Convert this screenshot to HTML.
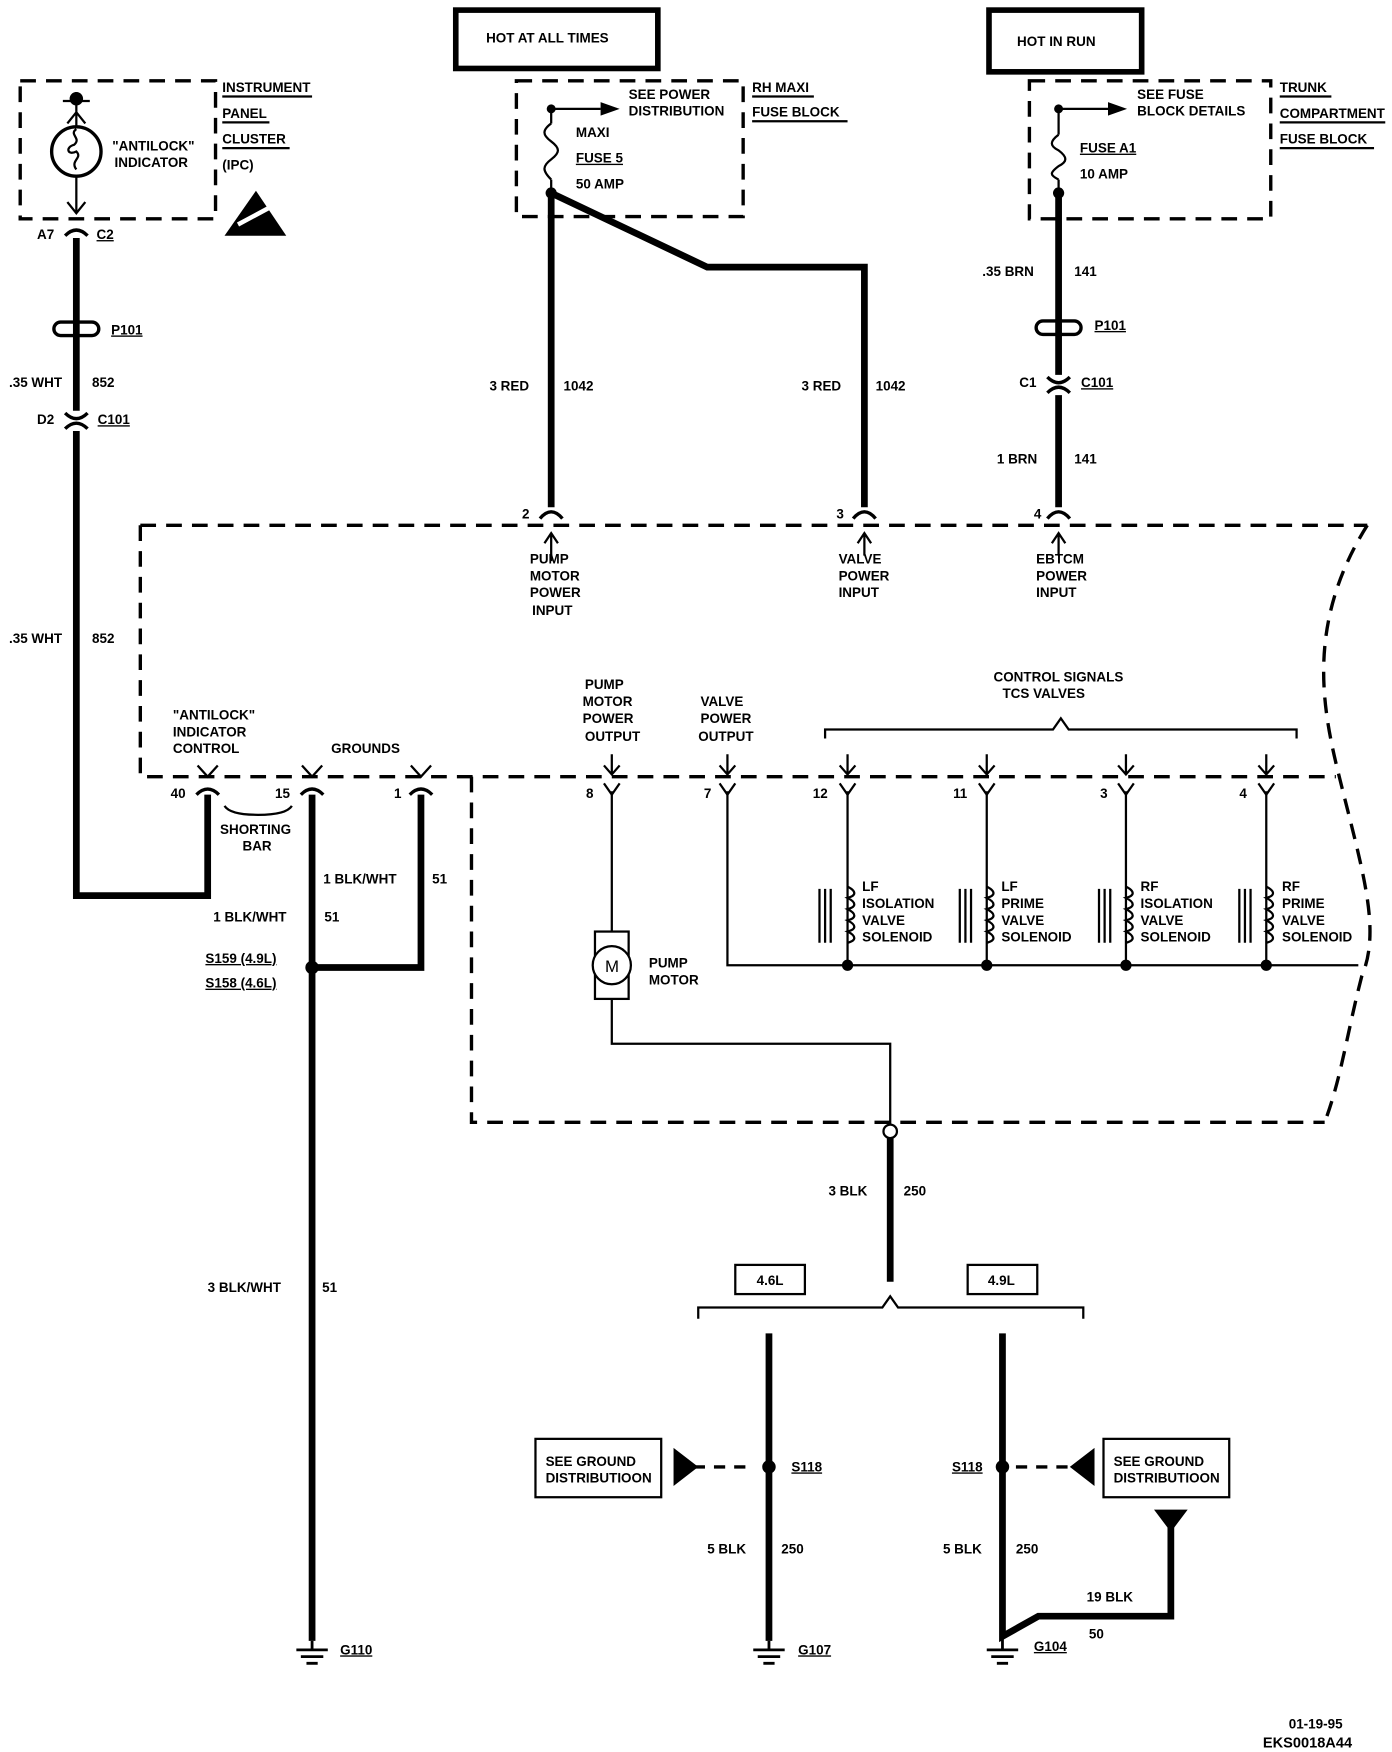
<!DOCTYPE html>
<html><head><style>html,body{margin:0;padding:0;background:#fff;width:1392px;height:1752px;overflow:hidden}</style></head><body>
<svg width="1392" height="1752" viewBox="0 0 1240 1561" preserveAspectRatio="none" xmlns="http://www.w3.org/2000/svg" font-family="Liberation Sans, sans-serif" font-size="12" font-weight="bold">
<g fill="none" stroke="#000">
<g stroke-width="3" stroke-dasharray="14,9">
<rect x="18" y="72" width="174" height="123"/>
<rect x="460" y="72" width="202" height="121"/>
<rect x="917" y="72" width="215" height="123"/>
<path d="M125 468 H1218"/>
<path d="M125 468 V692 H1190"/>
<path d="M420 692 V1000 H1180"/>
<path d="M1218 468 C1160 560,1180 640,1195 700 C1215 780,1230 830,1213 870 C1200 920,1195 960,1180 1000"/>
</g>
<rect x="406" y="9" width="180" height="52" stroke-width="5"/>
<rect x="881" y="9" width="136" height="55" stroke-width="5"/>
<g stroke-width="6">
<path d="M68 212 V366 M68 384 V798 H185 V708"/>
<path d="M491 172 V452"/>
<path d="M491 172 L630 238 H770 V452"/>
<path d="M943 172 V334 M943 352 V452"/>
<path d="M278 708 V1462"/>
<path d="M375 708 V862 H278"/>
<path d="M793 1014 V1142"/>
<path d="M685 1188 V1462"/>
<path d="M893 1188 V1458 L925 1440 H1043 V1360"/>
</g>
<g stroke-width="2">
<path d="M68 82 V113 M56 90 H80 M60 110 L68 100 L76 110 M68 157 V190 M60 180 L68 190 L76 180"/>
<path d="M491 95 V110 M491 160 V172 M491 110 c-8 6,-8 10,0 16 c8 6,8 10,0 16 c-8 6,-8 10,0 18"/>
<path d="M491 97 H535 M943 97 H987 M943 95 V120 M943 160 V172 M943 120 c-8 6,-8 10,0 14 c8 6,8 10,0 14 c-8 6,-8 8,0 12"/>
<path d="M545 705 V830 M545 890 V930 H793 V1003"/>
<path d="M648 705 V860 H1210"/>
<path d="M755 705 V860 M879 705 V860 M1003 705 V860 M1128 705 V860"/>
<path d="M622 1175 V1165 H786 L793 1155 L800 1165 H965 V1175"/>
<path d="M735 658 V650 H938 L945 640 L952 650 H1155 V658"/>
<path d="M200 718 Q205 726,230 726 Q255 726,260 718"/>
<path d="M198 86 H278 M198 109 H240 M198 132 H258 M670 86 H725 M670 108 H755 M1140 86 H1186 M1140 109 H1234 M1140 132 H1224"/>
</g>
</g>
<g fill="#000">
<path d="M535 91 L552 97 L535 103Z"/><path d="M987 91 L1004 97 L987 103Z"/>
<circle cx="68" cy="88" r="6"/><circle cx="491" cy="97" r="4"/><circle cx="491" cy="172" r="5"/><circle cx="943" cy="97" r="4"/><circle cx="943" cy="172" r="5"/>
<circle cx="278" cy="862" r="6"/><circle cx="755" cy="860" r="5"/><circle cx="879" cy="860" r="5"/><circle cx="1003" cy="860" r="5"/><circle cx="1128" cy="860" r="5"/>
<circle cx="685" cy="1307" r="6"/><circle cx="893" cy="1307" r="6"/>
<path d="M200 210 L228 170 L255 210Z"/>
<path d="M600 1290 L622 1307 L600 1324Z M975 1290 L953 1307 L975 1324Z M1028 1345 L1058 1345 L1043 1365Z"/>
</g>
<path d="M212 200 L240 185" stroke="#fff" stroke-width="4"/>
<g fill="none" stroke="#000" stroke-width="3">
<circle cx="68" cy="135" r="22"/>
<path d="M618 1307 H670 M905 1307 H955" stroke-dasharray="10,8"/>
<path d="M58 210 Q68 200,78 210 M58 382 Q68 372,78 382 M933 350 Q943 340,953 350"/>
<path d="M58 368 Q68 378,78 368 M933 336 Q943 346,953 336"/>
<rect x="48" y="287" width="40" height="12" rx="6"/><rect x="923" y="286" width="40" height="12" rx="6"/>
<path d="M481 462 Q491 450,501 462 M760 462 Q770 450,780 462 M933 462 Q943 450,953 462"/>
<path d="M175 708 Q185 698,195 708 M268 708 Q278 698,288 708 M365 708 Q375 698,385 708"/>
<rect x="530" y="830" width="30" height="60" stroke-width="2"/>
<circle cx="545" cy="860" r="17" fill="#fff" stroke-width="2"/>
<circle cx="793" cy="1008" r="6" fill="#fff" stroke-width="2"/>
</g>
<g stroke="#000" stroke-width="2" fill="none">
<path d="M68 115 c-7 5,5 8,-2 14 c-8 2,-6 10,2 6 c6 6,-6 8,0 16"/>
<path d="M491 475 V500 M485 484 L491 475 L497 484 M770 475 V495 M764 484 L770 475 L776 484 M943 475 V495 M937 484 L943 475 L949 484"/>
<path d="M176 682 L185 692 L194 682 M269 682 L278 692 L287 682 M366 682 L375 692 L384 682"/>
<path d="M545 672 V690 M538 682 L545 690 L552 682 M648 672 V690 M641 682 L648 690 L655 682"/>
<path d="M755 672 V690 M748 682 L755 690 L762 682 M879 672 V690 M872 682 L879 690 L886 682 M1003 672 V690 M996 682 L1003 690 L1010 682 M1128 672 V690 M1121 682 L1128 690 L1135 682"/>
<path d="M538 698 L545 708 L552 698 M641 698 L648 708 L655 698 M748 698 L755 708 L762 698 M872 698 L879 708 L886 698 M996 698 L1003 708 L1010 698 M1121 698 L1128 708 L1135 698"/>
<path d="M755 790 c8 4,8 8,0 10 c8 4,8 8,0 10 c8 4,8 8,0 10 c8 4,8 8,0 10 c8 4,8 8,0 10 M879 790 c8 4,8 8,0 10 c8 4,8 8,0 10 c8 4,8 8,0 10 c8 4,8 8,0 10 c8 4,8 8,0 10 M1003 790 c8 4,8 8,0 10 c8 4,8 8,0 10 c8 4,8 8,0 10 c8 4,8 8,0 10 c8 4,8 8,0 10 M1128 790 c8 4,8 8,0 10 c8 4,8 8,0 10 c8 4,8 8,0 10 c8 4,8 8,0 10 c8 4,8 8,0 10"/>
<path d="M730 792 V840 M735 792 V840 M740 792 V840 M855 792 V840 M860 792 V840 M865 792 V840 M979 792 V840 M984 792 V840 M989 792 V840 M1104 792 V840 M1109 792 V840 M1114 792 V840"/>
<path d="M264 1470 H292 M268 1476 H288 M273 1482 H283 M671 1470 H699 M675 1476 H695 M680 1482 H690 M879 1470 H907 M883 1476 H903 M888 1482 H898 M278 1462 V1470 M685 1462 V1470 M893 1458 V1470" stroke-width="2.5"/>
<rect x="655" y="1127" width="62" height="26"/><rect x="862" y="1127" width="62" height="26"/>
<rect x="477" y="1282" width="112" height="52"/><rect x="983" y="1282" width="112" height="52"/>
</g>
<g fill="#000">
<text x="433" y="38">HOT AT ALL TIMES</text>
<text x="906" y="41">HOT IN RUN</text>
<text x="198" y="82">INSTRUMENT</text><text x="198" y="105">PANEL</text><text x="198" y="128">CLUSTER</text><text x="198" y="151">(IPC)</text>
<text x="100" y="134">"ANTILOCK"</text><text x="102" y="149">INDICATOR</text>
<text x="33" y="213">A7</text><text x="86" y="213" text-decoration="underline">C2</text>
<text x="99" y="298" text-decoration="underline">P101</text>
<text x="8" y="345">.35 WHT</text><text x="82" y="345">852</text>
<text x="33" y="378">D2</text><text x="87" y="378" text-decoration="underline">C101</text>
<text x="8" y="573">.35 WHT</text><text x="82" y="573">852</text>
<text x="560" y="88">SEE POWER</text><text x="560" y="103">DISTRIBUTION</text>
<text x="670" y="82">RH MAXI</text><text x="670" y="104">FUSE BLOCK</text>
<text x="513" y="122">MAXI</text><text x="513" y="145" text-decoration="underline">FUSE 5</text><text x="513" y="168">50 AMP</text>
<text x="1013" y="88">SEE FUSE</text><text x="1013" y="103">BLOCK DETAILS</text>
<text x="1140" y="82">TRUNK</text><text x="1140" y="105">COMPARTMENT</text><text x="1140" y="128">FUSE BLOCK</text>
<text x="962" y="136" text-decoration="underline">FUSE A1</text><text x="962" y="159">10 AMP</text>
<text x="875" y="246">.35 BRN</text><text x="957" y="246">141</text>
<text x="975" y="294" text-decoration="underline">P101</text>
<text x="908" y="345">C1</text><text x="963" y="345" text-decoration="underline">C101</text>
<text x="888" y="413">1 BRN</text><text x="957" y="413">141</text>
<text x="436" y="348">3 RED</text><text x="502" y="348">1042</text>
<text x="714" y="348">3 RED</text><text x="780" y="348">1042</text>
<text x="465" y="462">2</text><text x="745" y="462">3</text><text x="921" y="462">4</text>
<text x="472" y="502">PUMP</text><text x="472" y="517">MOTOR</text><text x="472" y="532">POWER</text><text x="474" y="548">INPUT</text>
<text x="747" y="502">VALVE</text><text x="747" y="517">POWER</text><text x="747" y="532">INPUT</text>
<text x="923" y="502">EBTCM</text><text x="923" y="517">POWER</text><text x="923" y="532">INPUT</text>
<text x="885" y="607">CONTROL SIGNALS</text><text x="893" y="622">TCS VALVES</text>
<text x="521" y="614">PUMP</text><text x="519" y="629">MOTOR</text><text x="519" y="644">POWER</text><text x="521" y="660">OUTPUT</text>
<text x="624" y="629">VALVE</text><text x="624" y="644">POWER</text><text x="622" y="660">OUTPUT</text>
<text x="154" y="641">"ANTILOCK"</text><text x="154" y="656">INDICATOR</text><text x="154" y="671">CONTROL</text>
<text x="295" y="671">GROUNDS</text>
<text x="152" y="711">40</text><text x="245" y="711">15</text><text x="351" y="711">1</text>
<text x="522" y="711">8</text><text x="627" y="711">7</text><text x="724" y="711">12</text><text x="849" y="711">11</text><text x="980" y="711">3</text><text x="1104" y="711">4</text>
<text x="196" y="743">SHORTING</text><text x="216" y="758">BAR</text>
<text x="288" y="787">1 BLK/WHT</text><text x="385" y="787">51</text>
<text x="190" y="821">1 BLK/WHT</text><text x="289" y="821">51</text>
<text x="183" y="858" text-decoration="underline">S159 (4.9L)</text><text x="183" y="880" text-decoration="underline">S158 (4.6L)</text>
<text x="768" y="794">LF</text><text x="768" y="809">ISOLATION</text><text x="768" y="824">VALVE</text><text x="768" y="839">SOLENOID</text>
<text x="892" y="794">LF</text><text x="892" y="809">PRIME</text><text x="892" y="824">VALVE</text><text x="892" y="839">SOLENOID</text>
<text x="1016" y="794">RF</text><text x="1016" y="809">ISOLATION</text><text x="1016" y="824">VALVE</text><text x="1016" y="839">SOLENOID</text>
<text x="1142" y="794">RF</text><text x="1142" y="809">PRIME</text><text x="1142" y="824">VALVE</text><text x="1142" y="839">SOLENOID</text>
<text x="539" y="866" font-size="15" font-weight="normal">M</text>
<text x="578" y="862">PUMP</text><text x="578" y="877">MOTOR</text>
<text x="738" y="1065">3 BLK</text><text x="805" y="1065">250</text>
<text x="674" y="1145">4.6L</text><text x="880" y="1145">4.9L</text>
<text x="185" y="1151">3 BLK/WHT</text><text x="287" y="1151">51</text>
<text x="486" y="1306">SEE GROUND</text><text x="486" y="1321">DISTRIBUTIOON</text>
<text x="992" y="1306">SEE GROUND</text><text x="992" y="1321">DISTRIBUTIOON</text>
<text x="705" y="1311" text-decoration="underline">S118</text><text x="848" y="1311" text-decoration="underline">S118</text>
<text x="630" y="1384">5 BLK</text><text x="696" y="1384">250</text>
<text x="840" y="1384">5 BLK</text><text x="905" y="1384">250</text>
<text x="968" y="1427">19 BLK</text><text x="970" y="1460">50</text>
<text x="303" y="1474" text-decoration="underline">G110</text><text x="711" y="1474" text-decoration="underline">G107</text><text x="921" y="1471" text-decoration="underline">G104</text>
<text x="1148" y="1540">01-19-95</text><text x="1125" y="1557" font-size="13">EKS0018A44</text>
</g>
</svg>
</body></html>
